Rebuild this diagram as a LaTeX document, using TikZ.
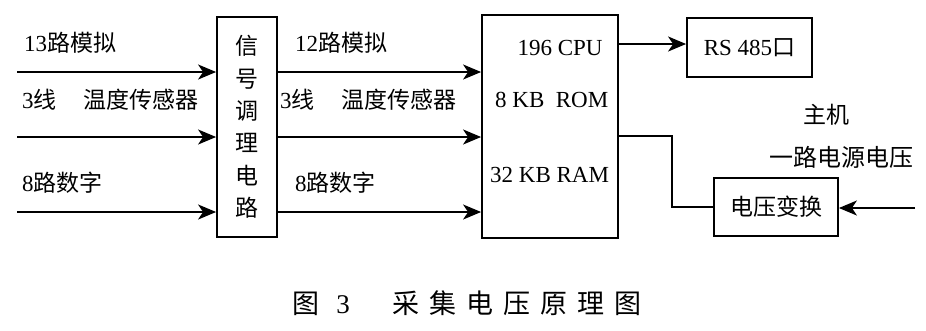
\documentclass[tikz,border=0pt]{standalone}
\usepackage{fontspec}
\setmainfont{Liberation Serif}
\newfontfamily\cjk{Noto Sans CJK SC}
\usetikzlibrary{arrows.meta}
\begin{document}
\begin{tikzpicture}[x=1pt,y=-1pt,
  box/.style={draw, line width=1.8pt, inner sep=0pt},
  lbl/.style={anchor=west, inner sep=0pt, font=\fontsize{23}{26}\selectfont},
  arr/.style={line width=1.8pt,-{Stealth[length=18pt,width=15pt,inset=5pt]}},
  wire/.style={line width=1.8pt}]
\useasboundingbox (0,0) rectangle (926,330);
% boxes
\node[box, minimum width=60pt, minimum height=220pt, align=center,
      font=\fontsize{23}{32.4}\selectfont\cjk] (sig) at (247,127) {信\\号\\调\\理\\电\\路};
\node[box, minimum width=136pt, minimum height=223pt] (cpu) at (550,126.5) {};
\node[box, minimum width=125pt, minimum height=59pt, font=\fontsize{23}{26}\selectfont] (rs) at (749.5,47.5) {RS 485{\cjk 口}};
\node[box, minimum width=124pt, minimum height=58pt, font=\fontsize{23}{26}\selectfont\cjk] (volt) at (776,207) {电压变换};
% CPU texts
\node[lbl, anchor=center] (t1) at (560,48) {196 CPU};
\node[lbl] (t2) at (495,100) {8 KB\ \ ROM};
\node[lbl] (t3) at (490,175) {32 KB RAM};
% inputs
\coordinate (in1) at (17,72);
\coordinate (in2) at (17,137);
\coordinate (in3) at (17,212);
\draw[arr] (in1) -- (in1 -| sig.west);
\draw[arr] (in2) -- (in2 -| sig.west);
\draw[arr] (in3) -- (in3 -| sig.west);
\draw[arr] (sig.east |- in1) -- (in1 -| cpu.west);
\draw[arr] (sig.east |- in2) -- (in2 -| cpu.west);
\draw[arr] (sig.east |- in3) -- (in3 -| cpu.west);
% labels left
\node[lbl] (l1) at (24,43) {13{\cjk 路模拟}};
\node[lbl] (l2) at (22,100) {3{\cjk 线\hspace{27pt}温度传感器}};
\node[lbl] (l3) at (22,183) {8{\cjk 路数字}};
% labels right
\node[lbl] (r1) at (295,43) {12{\cjk 路模拟}};
\node[lbl] (r2) at (280,100) {3{\cjk 线\hspace{27pt}温度传感器}};
\node[lbl] (r3) at (295,183) {8{\cjk 路数字}};
% CPU to RS485
\coordinate (c1) at (0,44);
\draw[arr] (cpu.east |- c1) -- (c1 -| rs.west);
% CPU to voltage converter
\coordinate (turn) at (672,136);
\draw[wire] (cpu.east |- turn) -- (turn) |- (volt.west);
% host input
\coordinate (pin) at (915,208);
\draw[arr] (pin) -- (pin -| volt.east);
\node[lbl, anchor=center, font=\fontsize{23}{26}\selectfont\cjk] (h1) at (826,115) {主机};
\node[lbl, anchor=center, font=\fontsize{24}{26}\selectfont\cjk] (h2) at (841,157) {一路电源电压};
% caption
\node[inner sep=0pt, font=\fontsize{27}{30}\selectfont\cjk] (cap) at (467,303)
  {图\hspace{17pt}{\rmfamily 3}\hspace{43pt}采\hspace{10pt}集\hspace{10pt}电\hspace{10pt}压\hspace{10pt}原\hspace{10pt}理\hspace{10pt}图};
\end{tikzpicture}
\end{document}
